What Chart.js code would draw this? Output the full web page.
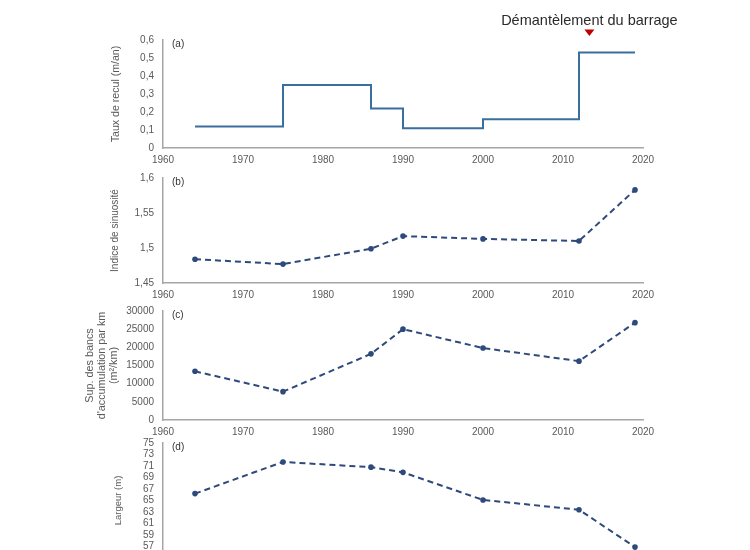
<!DOCTYPE html>
<html>
<head>
<meta charset="utf-8">
<script src="https://cdn.jsdelivr.net/npm/chart.js@4"></script>
<style>
  html, body { margin: 0; padding: 0; background: #fff; }
  body { width: 750px; height: 550px; position: relative; overflow: hidden; }
  .panel { position: absolute; left: 0; width: 750px; }
</style>
</head>
<body>
<div class="panel" style="top:0;height:172px"><canvas id="chartA"></canvas></div>
<div class="panel" style="top:163px;height:144px"><canvas id="chartB"></canvas></div>
<div class="panel" style="top:296px;height:148px"><canvas id="chartC"></canvas></div>
<div class="panel" style="top:428px;height:154px"><canvas id="chartD"></canvas></div>
<script>
const years = [1964, 1975, 1986, 1990, 2000, 2012, 2019];
const recul = [0.12, 0.35, 0.22, 0.11, 0.16, 0.53, 0.53];
const sinuosite = [1.484, 1.477, 1.499, 1.517, 1.513, 1.510, 1.583];
const bancs = [13400, 7800, 18200, 25000, 19800, 16200, 26800];
const largeur = [66.2, 71.7, 70.8, 69.9, 65.1, 63.4, 56.9];
const damYear = 2013.3;
const damLabel = "Démantèlement du barrage";

const axisGrey = "#a6a6a6";
const tickGrey = "#595959";
const fontFamily = "'Liberation Sans', Arial, sans-serif";

const comma = v => String(Number(v.toFixed(2))).replace(".", ",");

const panelLabel = {
    id: "panelLabel",
    afterDraw(chart, args, opts) {
        const { ctx, chartArea } = chart;
        ctx.save();
        ctx.fillStyle = "#333";
        ctx.font = "10px " + fontFamily;
        ctx.textBaseline = "middle";
        ctx.fillText(opts.text, chartArea.left + 9, chartArea.top + 4);
        if (opts.dam) {
            const x = chart.scales.x.getPixelForValue(damYear);
            ctx.fillStyle = "#c00000";
            ctx.beginPath();
            ctx.moveTo(x - 5, 29.5);
            ctx.lineTo(x + 5, 29.5);
            ctx.lineTo(x, 36);
            ctx.closePath();
            ctx.fill();
            ctx.fillStyle = "#2b2b2b";
            ctx.font = "14.5px " + fontFamily;
            ctx.textAlign = "center";
            ctx.fillText(damLabel, x, 21);
        }
        ctx.restore();
    }
};

function makeChart(id, values, opt) {
    const dashed = !opt.stepped;
    return new Chart(document.getElementById(id), {
        type: "line",
        data: {
            datasets: [{
                data: years.map((y, i) => ({ x: y, y: values[i] })),
                borderColor: dashed ? "#2e4a7c" : "#3a6e9f",
                backgroundColor: "#2e4a7c",
                borderWidth: 2,
                borderDash: dashed ? [6, 4] : [],
                stepped: opt.stepped ? "before" : false,
                pointRadius: dashed ? 2.8 : 0,
                pointBorderWidth: 0,
                tension: 0
            }]
        },
        plugins: [panelLabel],
        options: {
            responsive: true,
            maintainAspectRatio: false,
            animation: false,
            layout: { padding: { left: opt.left, right: 107, top: opt.top, bottom: opt.bottom } },
            plugins: {
                legend: { display: false },
                tooltip: { enabled: false },
                panelLabel: { text: opt.label, dam: opt.dam }
            },
            scales: {
                x: {
                    type: "linear",
                    min: 1960, max: 2020,
                    afterFit: s => { s.height = 18; },
                    grid: { display: false, drawTicks: false },
                    border: { color: axisGrey, width: 1.5 },
                    ticks: { stepSize: 10, padding: 6, color: tickGrey, font: { size: 10, family: fontFamily }, callback: v => String(v) }
                },
                y: {
                    min: opt.min, max: opt.max,
                    afterFit: s => { s.width = 163 - opt.left; },
                    grid: { display: false, drawTicks: false },
                    border: { color: axisGrey, width: 1.5 },
                    ticks: { stepSize: opt.step, autoSkip: false, padding: 9, color: tickGrey, font: { size: 10, family: fontFamily }, callback: opt.fmt || (v => String(v)) },
                    title: { display: true, text: opt.title, color: "#595959", font: { size: opt.titleSize, family: fontFamily, lineHeight: 1.12 }, padding: { top: 4, bottom: 0 } }
                }
            }
        }
    });
}

makeChart("chartA", recul, { stepped: true, min: 0, max: 0.6, step: 0.1, fmt: comma, title: "Taux de recul (m/an)", titleSize: 10.6, label: "(a)", dam: true, left: 106, top: 40, bottom: 6 });
makeChart("chartB", sinuosite, { min: 1.45, max: 1.6, step: 0.05, fmt: comma, title: "Indice de sinuosité", titleSize: 10, label: "(b)", left: 106, top: 10, bottom: 6 });
makeChart("chartC", bancs, { min: 0, max: 30000, step: 5000, title: ["Sup. des bancs", "d'accumulation par km", "(m²/km)"], titleSize: 10.8, label: "(c)", left: 80, top: 11, bottom: 6 });
makeChart("chartD", largeur, { min: 55, max: 75, step: 2, title: "Largeur (m)", titleSize: 9.5, label: "(d)", left: 109, top: 11, bottom: 6 });
</script>
</body>
</html>
